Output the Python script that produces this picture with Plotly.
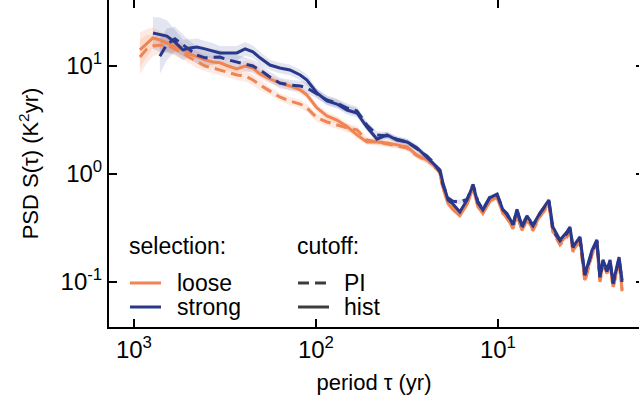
import plotly.graph_objects as go

# period grid (yr)
period = [927, 849, 786, 720, 659, 595, 538, 492, 451, 407, 368, 337, 304, 272, 245, 222, 203, 179, 158, 139,
          122, 112, 98.7, 87.0, 76.7, 67.5, 59.5, 52.5, 46.2, 40.7, 35.9, 31.6, 27.9, 24.6, 22.8, 20.8, 20.1,
          18.8, 17.7, 16.2, 14.8, 13.7, 12.9, 12.1, 11.1, 10.1, 9.39, 8.92, 8.27, 7.86, 7.38, 6.93, 6.42, 5.88,
          5.25, 4.99, 4.56, 4.18, 4.02, 3.87, 3.54, 3.33, 3.04, 2.86, 2.75, 2.65, 2.52, 2.42, 2.33, 2.16, 2.08]

strong_hist = [None, None, 20.2, 19.4, 18.9, 16.6, 14.1, 14.7, 15.0, 14.4, 13.8, 13.2, 13.2, 13.2, 14.4, 13.5,
               11.9, 10.2, 9.58, 9.18, 8.25, 7.42, 5.62, 4.74, 4.44, 3.91, 3.67, 2.72, 2.10, 2.30, 2.06, 1.98,
               1.75, 1.44, 1.26, 1.09, 0.84, 0.574, 0.53, 0.445, 0.574, 0.79, 0.539, 0.464, 0.60, 0.65, 0.464,
               0.43, 0.34, 0.47, 0.33, 0.41, 0.337, 0.435, 0.574, 0.323, 0.245, 0.29, 0.323, 0.211, 0.261,
               0.117, 0.198, 0.245, 0.111, 0.16, 0.129, 0.16, 0.098, 0.17, 0.104]

strong_pi = [None, None, None, 12.3, 15.9, 17.8, 15.6, 14.1, 12.6, 11.9, 12.1, 12.1, 11.4, 10.9, 10.4, 10.0,
             9.18, 7.91, 6.96, 6.67, 6.53, 6.26, 5.50, 4.84, 4.54, 4.08, 3.83, 2.84, 2.30, 2.25, 2.10, 1.98,
             1.71, 1.47, 1.29, 1.04, 0.80, 0.60, 0.56, 0.55, 0.58, 0.80, 0.56, 0.47, 0.61, 0.64, 0.47, 0.42,
             0.34, 0.46, 0.32, 0.40, 0.33, 0.43, 0.56, 0.30, 0.24, 0.28, 0.31, 0.21, 0.25, 0.115, 0.19, 0.24,
             0.11, 0.155, 0.125, 0.155, 0.096, 0.165, 0.10]

loose_hist = [14.1, 16.3, 18.2, 17.4, 16.3, 15.3, 14.1, 12.9, 12.1, 11.4, 10.9, 10.7, 10.0, 9.38, 10.0, 9.58,
              8.43, 7.58, 6.96, 6.53, 6.00, 5.39, 4.08, 3.45, 3.16, 2.75, 2.30, 1.98, 1.98, 1.94, 1.86, 1.78,
              1.50, 1.35, 1.24, 1.02, 0.76, 0.53, 0.47, 0.41, 0.52, 0.74, 0.50, 0.43, 0.56, 0.61, 0.43, 0.40,
              0.31, 0.43, 0.30, 0.38, 0.31, 0.41, 0.54, 0.30, 0.23, 0.27, 0.30, 0.195, 0.245, 0.104, 0.185,
              0.23, 0.102, 0.15, 0.12, 0.15, 0.09, 0.158, 0.085]

loose_pi = [12.1, 14.4, 15.3, 15.6, 15.6, 14.4, 13.2, 11.9, 10.9, 10.0, 9.58, 9.18, 8.80, 8.25, 8.08, 7.42,
            6.67, 5.87, 5.16, 4.74, 4.44, 4.08, 3.31, 3.03, 2.84, 2.67, 2.56, 2.06, 1.98, 1.90, 1.84, 1.74,
            1.48, 1.33, 1.22, 1.00, 0.74, 0.55, 0.50, 0.45, 0.53, 0.75, 0.51, 0.44, 0.55, 0.60, 0.44, 0.39,
            0.32, 0.42, 0.30, 0.37, 0.30, 0.40, 0.52, 0.29, 0.22, 0.26, 0.29, 0.19, 0.24, 0.10, 0.18, 0.22,
            0.10, 0.145, 0.118, 0.145, 0.088, 0.155, 0.082]

# multiplicative half-width of the shaded uncertainty bands
spread_strong = [1.0, 1.0, 1.4, 1.45, 1.4, 1.3, 1.25, 1.2, 1.2, 1.18, 1.18, 1.16, 1.16, 1.16, 1.16, 1.14,
                 1.14, 1.12, 1.12, 1.12, 1.12, 1.12, 1.1, 1.1, 1.1, 1.1, 1.1, 1.08, 1.08, 1.08, 1.07, 1.07,
                 1.07, 1.06, 1.06] + [1.05] * 36
spread_loose = [1.45, 1.35, 1.25, 1.2, 1.18, 1.16, 1.15, 1.14, 1.14] + [1.12] * 8 + [1.09] * 10 + \
               [1.07] * 8 + [1.045] * 36

xtick_vals = [1000, 100, 10]
xtick_text = ["10<sup>3</sup>", "10<sup>2</sup>", "10<sup>1</sup>"]
ytick_vals = [10, 1, 0.1]
ytick_text = ["10<sup>1</sup>", "10<sup>0</sup>", "10<sup>-1</sup>"]

legend_groups = ["selection:", "cutoff:"]
selection_names = ["loose", "strong"]
cutoff_names = ["PI", "hist"]

ORANGE = "rgb(240,132,82)"
NAVY = "rgb(42,56,140)"
ORANGE_BAND = "rgba(240,132,82,0.16)"
NAVY_BAND = "rgba(42,56,140,0.13)"
GRAY = "rgb(60,60,60)"
DASH = "11px,6px"
LW = 3

# plot-area geometry (px) used to place the hand-made legend
L, R, T, B = 109, 639, 0, 327


def px_x(p):
    return (p - L) / (R - L)


def px_y(p):
    return (B - p) / (B - T)


fig = go.Figure()


def band(values, spread, color):
    xs = [p for p, v in zip(period, values) if v is not None]
    up = [v * s for v, s in zip(values, spread) if v is not None]
    lo = [v / s for v, s in zip(values, spread) if v is not None]
    fig.add_trace(go.Scatter(x=xs + xs[::-1], y=up + lo[::-1], fill="toself", fillcolor=color,
                             line=dict(width=0), mode="lines", showlegend=False, hoverinfo="skip"))


series = [
    (loose_pi, spread_loose, ORANGE, ORANGE_BAND, DASH),
    (loose_hist, spread_loose, ORANGE, ORANGE_BAND, "solid"),
    (strong_pi, spread_strong, NAVY, NAVY_BAND, DASH),
    (strong_hist, spread_strong, NAVY, NAVY_BAND, "solid"),
]
for vals, spr, col, bcol, dash in series:
    band(vals, spr, bcol)
for vals, spr, col, bcol, dash in series:
    fig.add_trace(go.Scatter(x=period, y=vals, mode="lines", line=dict(color=col, width=LW, dash=dash),
                             showlegend=False))

# mirror axes helper
fig.add_trace(go.Scatter(x=[None], y=[None], xaxis="x2", yaxis="y2", showlegend=False))

FONT = "Liberation Sans, Arial, sans-serif"
xrange = [3.137, 0.225]
yrange = [-1.417, 1.611]

# legend drawn as annotations + key lines
annotations = []
shapes = []
annotations.append(dict(x=px_x(127), y=px_y(246), xref="paper", yref="paper", text=legend_groups[0],
                        showarrow=False, xanchor="left", yanchor="middle", font=dict(size=23)))
annotations.append(dict(x=px_x(295), y=px_y(246), xref="paper", yref="paper", text=legend_groups[1],
                        showarrow=False, xanchor="left", yanchor="middle", font=dict(size=23)))
row_y = [283, 307]
for name, col, yy in zip(selection_names, [ORANGE, NAVY], row_y):
    annotations.append(dict(x=px_x(175), y=px_y(yy), xref="paper", yref="paper", text=name,
                            showarrow=False, xanchor="left", yanchor="middle", font=dict(size=23)))
    shapes.append(dict(type="line", xref="paper", yref="paper", x0=px_x(130), x1=px_x(161),
                       y0=px_y(yy), y1=px_y(yy), line=dict(color=col, width=LW)))
for name, dash, yy in zip(cutoff_names, [DASH, "solid"], row_y):
    annotations.append(dict(x=px_x(342), y=px_y(yy), xref="paper", yref="paper", text=name,
                            showarrow=False, xanchor="left", yanchor="middle", font=dict(size=23)))
    shapes.append(dict(type="line", xref="paper", yref="paper", x0=px_x(298), x1=px_x(329),
                       y0=px_y(yy), y1=px_y(yy), line=dict(color=GRAY, width=LW, dash=dash)))

fig.update_layout(
    width=639, height=404,
    margin=dict(l=L, r=639 - R, t=T, b=404 - B),
    plot_bgcolor="white", paper_bgcolor="white",
    font=dict(family=FONT, size=23, color="black"),
    showlegend=False,
    annotations=annotations,
    shapes=shapes,
    xaxis=dict(type="log", range=xrange, tickvals=xtick_vals, ticktext=xtick_text, automargin=False,
               ticks="inside", ticklen=8, tickwidth=2, tickcolor="black",
               showline=True, linecolor="black", linewidth=2, showgrid=False, zeroline=False,
               tickfont=dict(size=24),
               title=dict(text="period τ (yr)", font=dict(size=22), standoff=13)),
    yaxis=dict(type="log", range=yrange, tickvals=ytick_vals, ticktext=ytick_text, automargin=False,
               ticks="inside", ticklen=8, tickwidth=2, tickcolor="black",
               showline=True, linecolor="black", linewidth=2, showgrid=False, zeroline=False,
               tickfont=dict(size=24),
               title=dict(text="PSD S(τ) (K<sup>2</sup>yr)", font=dict(size=22), standoff=16)),
    xaxis2=dict(type="log", range=xrange, overlaying="x", side="top", anchor="y", automargin=False,
                tickvals=xtick_vals, ticks="inside", ticklen=8, tickwidth=2, tickcolor="black",
                showticklabels=False, showline=True, linecolor="#d0d0d0", linewidth=1,
                showgrid=False, zeroline=False),
    yaxis2=dict(type="log", range=yrange, overlaying="y", side="right", anchor="x", automargin=False,
                tickvals=ytick_vals, ticks="inside", ticklen=3, tickwidth=2, tickcolor="black",
                showticklabels=False, showline=False, showgrid=False, zeroline=False),
)

fig.write_html("out.html", config={"displayModeBar": False},
               post_script="document.body.style.margin='0px';")
